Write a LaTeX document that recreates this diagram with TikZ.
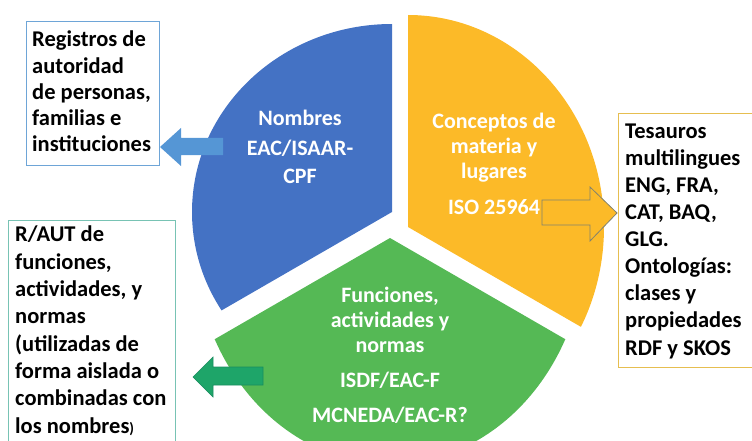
\documentclass[tikz,border=0pt]{standalone}
\usepackage{fontspec}
\setmainfont{Carlito}
\definecolor{secblue}{RGB}{68,114,196}
\definecolor{secyellow}{RGB}{252,186,40}
\definecolor{secgreen}{RGB}{85,185,85}
\definecolor{arrblue}{RGB}{85,150,213}
\definecolor{arrgreen}{RGB}{30,165,105}
\definecolor{arrgreenline}{RGB}{25,140,95}
\definecolor{arryellowline}{RGB}{130,130,110}
\definecolor{bxblue}{RGB}{110,165,215}
\definecolor{bxteal}{RGB}{120,195,180}
\definecolor{bxgold}{RGB}{230,190,80}
\begin{document}
\begin{tikzpicture}[x=1pt,y=-1pt,
  sectxt/.style={text=white,font=\fontsize{22}{25}\selectfont\bfseries,align=center,inner sep=0pt,anchor=base},
  boxtxt/.style={font=\fontsize{22.5}{27}\selectfont\bfseries,align=left,inner sep=0pt,anchor=base west},
  framebox/.style={draw=#1,line width=1pt,fill=white,anchor=north west,inner sep=0pt}]
\useasboundingbox (0,0) rectangle (752,441);
\clip (0,0) rectangle (752,441);
% blue sector
\begin{scope}
  \clip (392,212) -- ([shift={(392,212)}]150:600) -- ([shift={(392,212)}]210:600) -- ([shift={(392,212)}]270:600) -- cycle;
  \fill[secblue] (392,212) ellipse [x radius=200, y radius=188];
\end{scope}
% yellow sector
\begin{scope}
  \clip (408,227) -- ([shift={(408,227)}]270:600) -- ([shift={(408,227)}]330:600) -- ([shift={(408,227)}]30:600) -- cycle;
  \fill[secyellow] (408,227) ellipse [x radius=196, y radius=212];
\end{scope}
% green sector
\begin{scope}
  \clip (390,238) -- ([shift={(390,238)}]30:600) -- ([shift={(390,238)}]90:600) -- ([shift={(390,238)}]150:600) -- cycle;
  \fill[secgreen] (390,238) ellipse [x radius=196, y radius=226];
\end{scope}
% boxes
\node[framebox=bxblue,minimum width=133,minimum height=144] (boxA) at (26,21) {};
\node[framebox=bxgold,minimum width=133.5,minimum height=254] (boxB) at (618,113) {};
\node[framebox=bxteal,minimum width=167,minimum height=240] (boxC) at (8,220) {};
% box texts (anchor = baseline of last line)
\node[boxtxt,font=\fontsize{22.5}{26.3}\selectfont\bfseries] (txtA) at (32,152) {Registros de\\autoridad\\de personas,\\familias e\\instituciones};
\node[boxtxt,font=\fontsize{22.5}{27.1}\selectfont\bfseries] (txtB) at (625,355) {Tesauros\\multilingues\\ENG, FRA,\\CAT, BAQ,\\GLG.\\Ontologías:\\clases y\\propiedades\\RDF y SKOS};
\node[boxtxt,font=\fontsize{22.5}{27.3}\selectfont\bfseries] (txtC) at (15,433) {R/AUT de\\funciones,\\actividades, y\\normas\\(utilizadas de\\forma aislada o\\combinadas con\\los nombres{\fontsize{15}{15}\selectfont)}};
% sector texts
\node[sectxt] (lblBlue) at (300,183) {Nombres\\[5pt]EAC/ISAAR-\\[3pt]CPF};
\node[sectxt] (lblYellow) at (494,214) {Conceptos de\\materia y\\lugares\\[11pt]ISO 25964};
\node[sectxt] (lblGreen) at (390,422) {Funciones,\\actividades y\\normas\\[10pt]ISDF/EAC-F\\[10pt]MCNEDA/EAC-R?};
% block arrows
\fill[arrblue] (223,138) -- (181,138) -- (181,128) -- (160,147) -- (181,166) -- (181,155) -- (223,155) -- cycle;
\filldraw[fill=arrgreen,draw=arrgreenline,line width=0.6pt] (263,367) -- (213,367) -- (213,357) -- (193,377) -- (213,397) -- (213,385) -- (263,385) -- cycle;
\filldraw[fill=secyellow,draw=arryellowline,line width=0.8pt] (542,200) -- (590,200) -- (590,187) -- (617,213) -- (590,241) -- (590,225) -- (542,225) -- cycle;
\end{tikzpicture}
\end{document}
